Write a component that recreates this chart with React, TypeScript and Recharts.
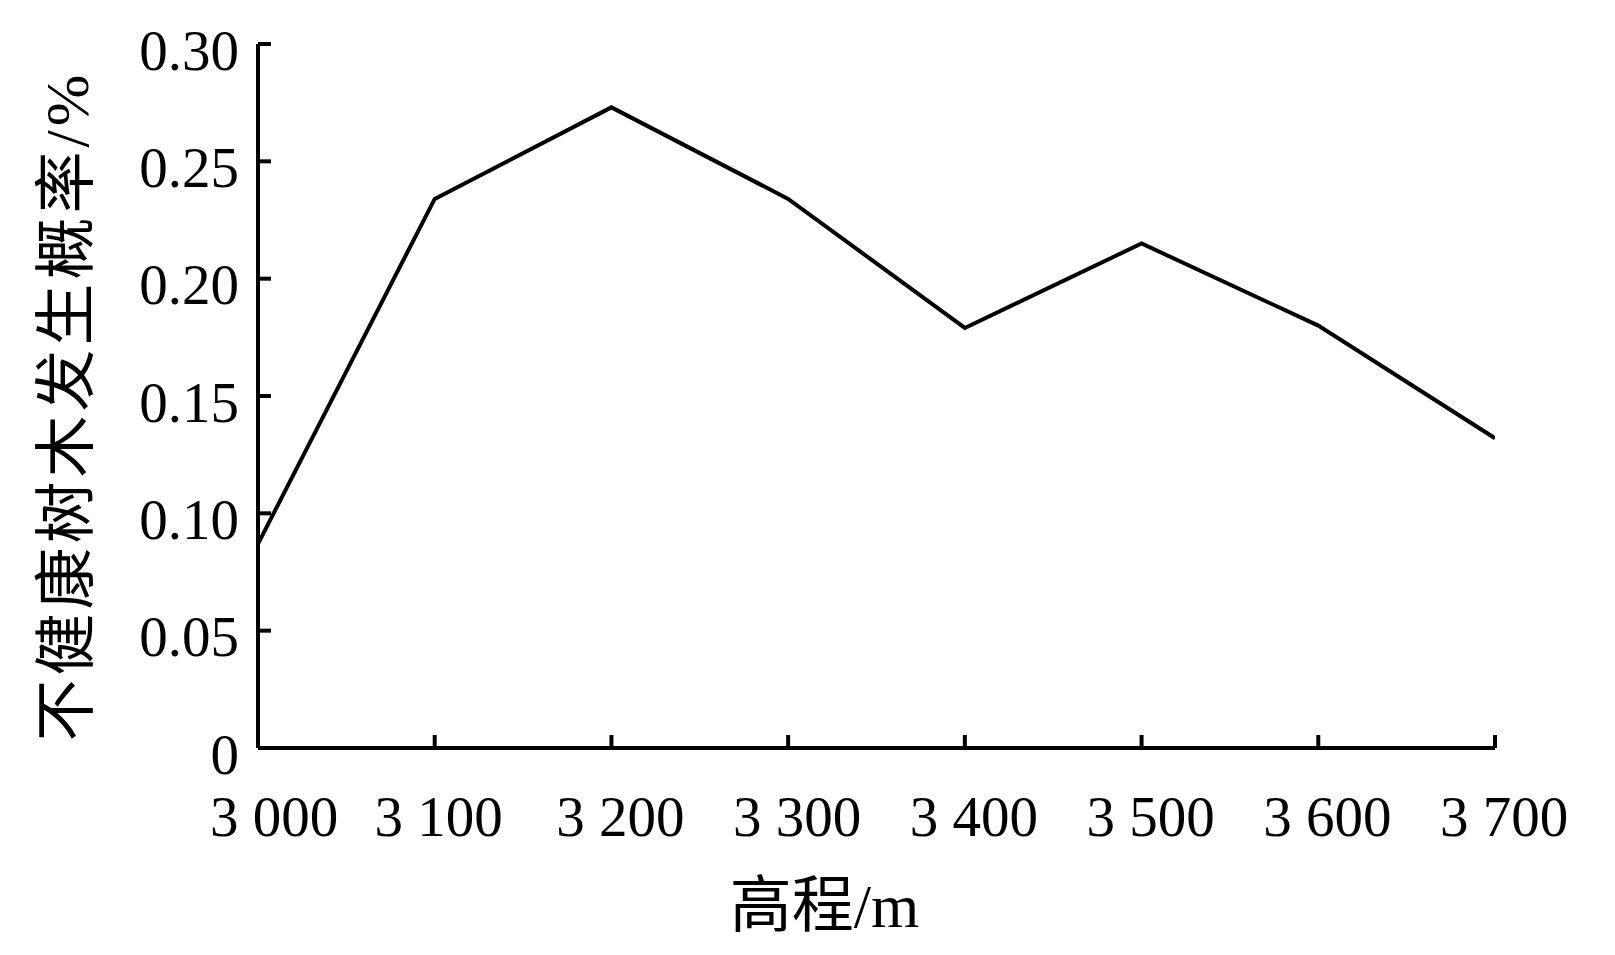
import React from 'react';
import { LineChart, Line, XAxis, YAxis } from 'recharts';

const elevations = [3000, 3100, 3200, 3300, 3400, 3500, 3600, 3700];
const probabilities = [0.087, 0.234, 0.273, 0.234, 0.179, 0.215, 0.18, 0.132];
const yTicks = [0, 0.05, 0.1, 0.15, 0.2, 0.25, 0.3];
const xTitle = '高程/m';
const yTitle = '不健康树木发生概率/%';

const data = elevations.map((e, i) => ({ elev: e, p: probabilities[i] }));

const FONT = "'Liberation Serif', 'Times New Roman', 'Noto Sans CJK SC', serif";
const FS = 57;

const fmtX = (v: number) => {
  const s = String(v);
  return s.length > 3 ? s.slice(0, s.length - 3) + ' ' + s.slice(-3) : s;
};
const fmtY = (v: number) => (v === 0 ? '0' : v.toFixed(2));

const XTick = (props: any) => {
  const { x, y, payload, index } = props;
  const dx = index === 0 ? 16 : index === 1 ? 4 : 9;
  return (
    <g>
      <line x1={x} x2={x} y1={y} y2={y - 13} stroke="#000" strokeWidth={4} />
      <text x={x + dx} y={y + 68} textAnchor="middle" dominantBaseline="central"
        fontFamily={FONT} fontSize={FS} fill="#000">{fmtX(payload.value)}</text>
    </g>
  );
};

const YTick = (props: any) => {
  const { x, y, payload } = props;
  return (
    <g>
      <line x1={x} x2={x + 13} y1={y} y2={y} stroke="#000" strokeWidth={4} />
      <text x={x - 19} y={y + 6} textAnchor="end" dominantBaseline="central"
        fontFamily={FONT} fontSize={FS} fill="#000">{fmtY(payload.value)}</text>
    </g>
  );
};

const YLabel = (props: any) => {
  const vb = props.viewBox || { x: 0, y: 36, width: 250, height: 704 };
  const cx = vb.x + 59;
  const cy = vb.y + vb.height / 2 + 10;
  return (
    <text x={cx} y={cy} transform={`rotate(-90, ${cx}, ${cy})`} textAnchor="middle"
      dominantBaseline="central" fontFamily={FONT} fontSize={62} letterSpacing={4}
      fill="#000">{yTitle}</text>
  );
};

const XLabel = (props: any) => {
  const vb = props.viewBox || { x: 250, y: 740, width: 1236, height: 200 };
  const cx = vb.x + vb.width / 2 - 52;
  const cy = vb.y + 158;
  return (
    <text x={cx} y={cy} textAnchor="middle" dominantBaseline="central"
      fontFamily={FONT} fontSize={62} fill="#000">{xTitle}</text>
  );
};

export default function App() {
  return (
    <div style={{ width: 1600, height: 940, background: '#fff' }}>
      <LineChart width={1600} height={940} data={data}
        margin={{ top: 36, right: 113, left: 0, bottom: 0 }}>
        <XAxis dataKey="elev" type="number" domain={[3000, 3700]} ticks={elevations}
          height={200} tickSize={0} tickMargin={0} tickLine={false} tick={<XTick />}
          axisLine={{ stroke: '#000', strokeWidth: 4 }} interval={0}
          label={<XLabel />} allowDataOverflow />
        <YAxis type="number" domain={[0, 0.3]} ticks={yTicks} width={250}
          tickSize={0} tickMargin={0} tickLine={false} tick={<YTick />}
          axisLine={{ stroke: '#000', strokeWidth: 4 }} interval={0}
          label={<YLabel />} allowDataOverflow />
        <Line type="linear" dataKey="p" stroke="#000" strokeWidth={4} dot={false}
          activeDot={false} isAnimationActive={false} />
      </LineChart>
    </div>
  );
}
